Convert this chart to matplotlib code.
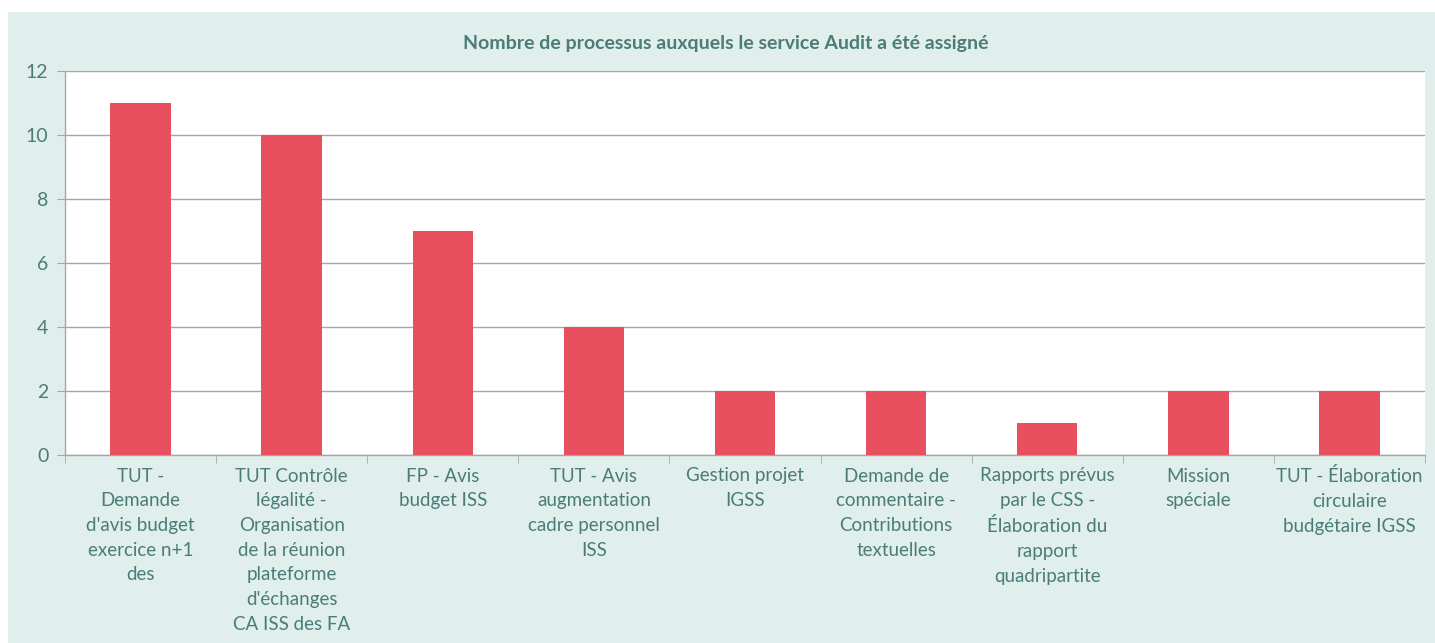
import matplotlib
matplotlib.use('Agg')
import matplotlib.pyplot as plt
from matplotlib.patches import Rectangle
import numpy as np

plt.rcParams['font.family'] = ['Lato', 'DejaVu Sans']

categories = [
    "TUT -\nDemande\nd'avis budget\nexercice n+1\ndes",
    "TUT Contrôle\nlégalité -\nOrganisation\nde la réunion\nplateforme\nd'échanges\nCA ISS des FA",
    "FP - Avis\nbudget ISS",
    "TUT - Avis\naugmentation\ncadre personnel\nISS",
    "Gestion projet\nIGSS",
    "Demande de\ncommentaire -\nContributions\ntextuelles",
    "Rapports prévus\npar le CSS -\nÉlaboration du\nrapport\nquadripartite",
    "Mission\nspéciale",
    "TUT - Élaboration\ncirculaire\nbudgétaire IGSS",
]
values = [11, 10, 7, 4, 2, 2, 1, 2, 2]
title = "Nombre de processus auxquels le service Audit a été assigné"

bg = '#e0efec'
teal = '#4a7c78'
bar_col = '#e8505f'
grid_col = '#a6a6a6'

fig = plt.figure(figsize=(14.35, 6.43), dpi=100)
fig.patch.set_facecolor('white')
fig.patches.append(Rectangle((8/1435, 0), 1 - 8/1435, 1 - 12/643,
                             transform=fig.transFigure, facecolor=bg,
                             edgecolor='none', zorder=-10))

ax = fig.add_axes([65/1435, 1 - 455/643, (1425 - 65)/1435, (455 - 71)/643])
ax.set_facecolor('white')

x = np.arange(len(values))
ax.bar(x, values, width=0.4, color=bar_col, zorder=3)

ax.set_xlim(-0.5, len(values) - 0.5)
ax.set_ylim(0, 12)
ax.set_yticks(range(0, 13, 2))
ax.yaxis.grid(True, color=grid_col, linewidth=1, zorder=0)

ax.set_xticks(x)
ax.set_xticklabels(categories, fontsize=13.5, color=teal)
for t in ax.get_xticklabels():
    t.set_linespacing(1.55)
ax.set_xticks(np.arange(-0.5, len(values)), minor=True)
ax.tick_params(axis='x', which='major', length=0, pad=9)
ax.tick_params(axis='x', which='minor', length=6, color=grid_col)
ax.tick_params(axis='y', length=6, color=grid_col, labelsize=14,
               labelcolor=teal, pad=6)

for s in ['top', 'right']:
    ax.spines[s].set_visible(False)
for s in ['left', 'bottom']:
    ax.spines[s].set_color(grid_col)
    ax.spines[s].set_linewidth(1)

fig.text(726/1435, 1 - 43/643, title, ha='center', va='center',
         fontsize=14, fontweight='bold', color=teal)

fig.savefig('out.png', dpi=100, facecolor=fig.get_facecolor())
